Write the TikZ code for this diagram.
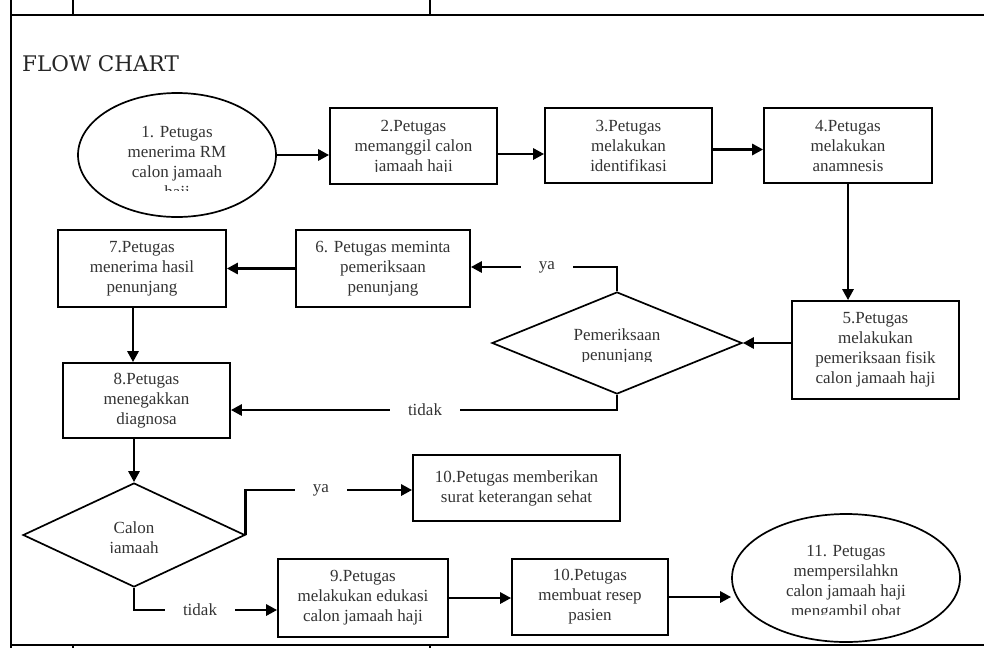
\documentclass[tikz,border=0pt]{standalone}
\usepackage{fontspec}
\setmainfont{Liberation Serif}
\newfontfamily\titlefont{DejaVu Serif}
\usetikzlibrary{shapes.geometric,arrows.meta,calc}
\begin{document}
\begin{tikzpicture}[x=1pt,y=-1pt,
  box/.style={draw, line width=1.7pt, inner sep=0pt},
  txt/.style={align=center, font=\fontsize{17}{20}\selectfont, text=black!80, inner sep=0pt},
  arr/.style={line width=2.9pt, -{Triangle[length=11pt,width=11pt]}},
  seg/.style={line width=2.9pt},
  lbl/.style={font=\fontsize{17}{20}\selectfont, text=black!80, inner xsep=18pt, inner ysep=2pt},
  tbl/.style={line width=1.4pt},
  ell/.style={draw, ellipse, line width=1.7pt, inner sep=0pt},
  dia/.style={draw, diamond, line width=1.7pt, inner sep=0pt}]
\useasboundingbox (0,0) rectangle (984,648);

% table frame
\draw[tbl] (11,0) -- (11,648);
\draw[tbl] (11,15) -- (984,15);
\draw[tbl] (73,0) -- (73,15);
\draw[tbl] (430,0) -- (430,15);
\draw[tbl] (11,645) -- (984,645);
\draw[tbl] (73,645) -- (73,648);
\draw[tbl] (430,645) -- (430,648);

\node[anchor=west, inner sep=0pt, font=\titlefont\fontsize{21.5}{22}\selectfont, text=black!85] (title) at (22,63.5) {FLOW CHART};

% shapes
\node[ell, minimum width=198pt, minimum height=124pt] (e1) at (177,155) {};
\node[box, minimum width=167pt, minimum height=76pt] (b2) at (413.5,146) {};
\node[box, txt, minimum width=167pt, minimum height=75pt] (b3) at (628.5,145.5) {3.Petugas\\melakukan\\identifikasi};
\node[box, txt, minimum width=168pt, minimum height=75pt] (b4) at (848,145.5) {4.Petugas\\melakukan\\anamnesis};
\node[box, txt, minimum width=167pt, minimum height=98pt] (b5) at (875.5,350) {5.Petugas\\melakukan\\pemeriksaan fisik\\calon jamaah haji};
\node[dia, minimum width=250pt, minimum height=102pt] (d1) at (617,343) {};
\node[box, txt, minimum width=174pt, minimum height=77pt] (b6) at (383,268.5) {6. Petugas meminta\\pemeriksaan\\penunjang};
\node[box, txt, minimum width=168pt, minimum height=77pt] (b7) at (142,268.5) {7.Petugas\\menerima hasil\\penunjang};
\node[box, txt, minimum width=167pt, minimum height=75pt] (b8) at (146.5,400.5) {8.Petugas\\menegakkan\\diagnosa};
\node[dia, minimum width=222pt, minimum height=104pt] (d2) at (134,535) {};
\node[box, txt, minimum width=207pt, minimum height=66pt] (b10a) at (516.5,488) {10.Petugas memberikan\\surat keterangan sehat};
\node[box, txt, minimum width=170pt, minimum height=78pt] (b9) at (363,598) {9.Petugas\\melakukan edukasi\\calon jamaah haji};
\node[box, txt, minimum width=156pt, minimum height=76pt] (b10b) at (590,597) {10.Petugas\\membuat resep\\pasien};
\node[ell, minimum width=228pt, minimum height=128pt] (e11) at (846,578) {};

% clipped texts
\begin{scope}
\clip (78,90) rectangle (276,190);
\node[txt] (t1) at (177,163.5) {1. Petugas\\menerima RM\\calon jamaah\\haji};
\end{scope}
\begin{scope}
\clip (331,109) rectangle (496,171);
\node[txt] (t2) at (413.5,148) {2.Petugas\\memanggil calon\\jamaah haji};
\end{scope}
\begin{scope}
\clip (500,300) rectangle (740,361);
\node[txt] (td1) at (617,346.5) {Pemeriksaan\\penunjang};
\end{scope}
\begin{scope}
\clip (30,490) rectangle (240,552.5);
\node[txt] (td2) at (134,539.5) {Calon\\jamaah};
\end{scope}
\begin{scope}
\clip (735,515) rectangle (958,614.5);
\node[txt] (t11) at (846,582.5) {11. Petugas\\mempersilahkn\\calon jamaah haji\\mengambil obat};
\end{scope}

% connectors
\draw[arr] (e1.east) -- (e1.east -| b2.west);
\coordinate (a23) at ($(b2.east)+(0,8)$);
\draw[arr] (a23) -- (a23 -| b3.west);
\coordinate (a34) at ($(b3.east)+(0,4)$);
\draw[arr] (a34) -- (a34 -| b4.west);
\draw[arr] (b4.south) -- (b4.south |- b5.north);
\draw[arr] (b5.west |- d1.east) -- (d1.east);

\node[lbl] (ya1) at (547,267) {ya};
\draw[seg] (d1.north) |- (ya1.east);
\draw[arr] (ya1.west) -- (ya1.west -| b6.east);

\draw[arr] (b6.west) -- (b6.west -| b7.east);
\coordinate (a78) at ($(b7.south)+(-9,0)$);
\draw[arr] (a78) -- (a78 |- b8.north);

\node[lbl] (n1) at (425,410) {tidak};
\draw[seg] (d1.south) |- (n1.east);
\draw[arr] (n1.west) -- (n1.west -| b8.east);

\draw[arr] (d2.north |- b8.south) -- (d2.north);

\node[lbl] (ya2) at (321,490) {ya};
\draw[seg] (d2.east) |- (ya2.west);
\draw[arr] (ya2.east) -- (ya2.east -| b10a.west);

\node[lbl] (n3) at (200,610) {tidak};
\draw[seg] (d2.south) |- (n3.west);
\draw[arr] (n3.east) -- (n3.east -| b9.west);

\draw[arr] (b9.east) -- (b9.east -| b10b.west);
\draw[arr] (b10b.east) -- (b10b.east -| e11.west);
\end{tikzpicture}
\end{document}
